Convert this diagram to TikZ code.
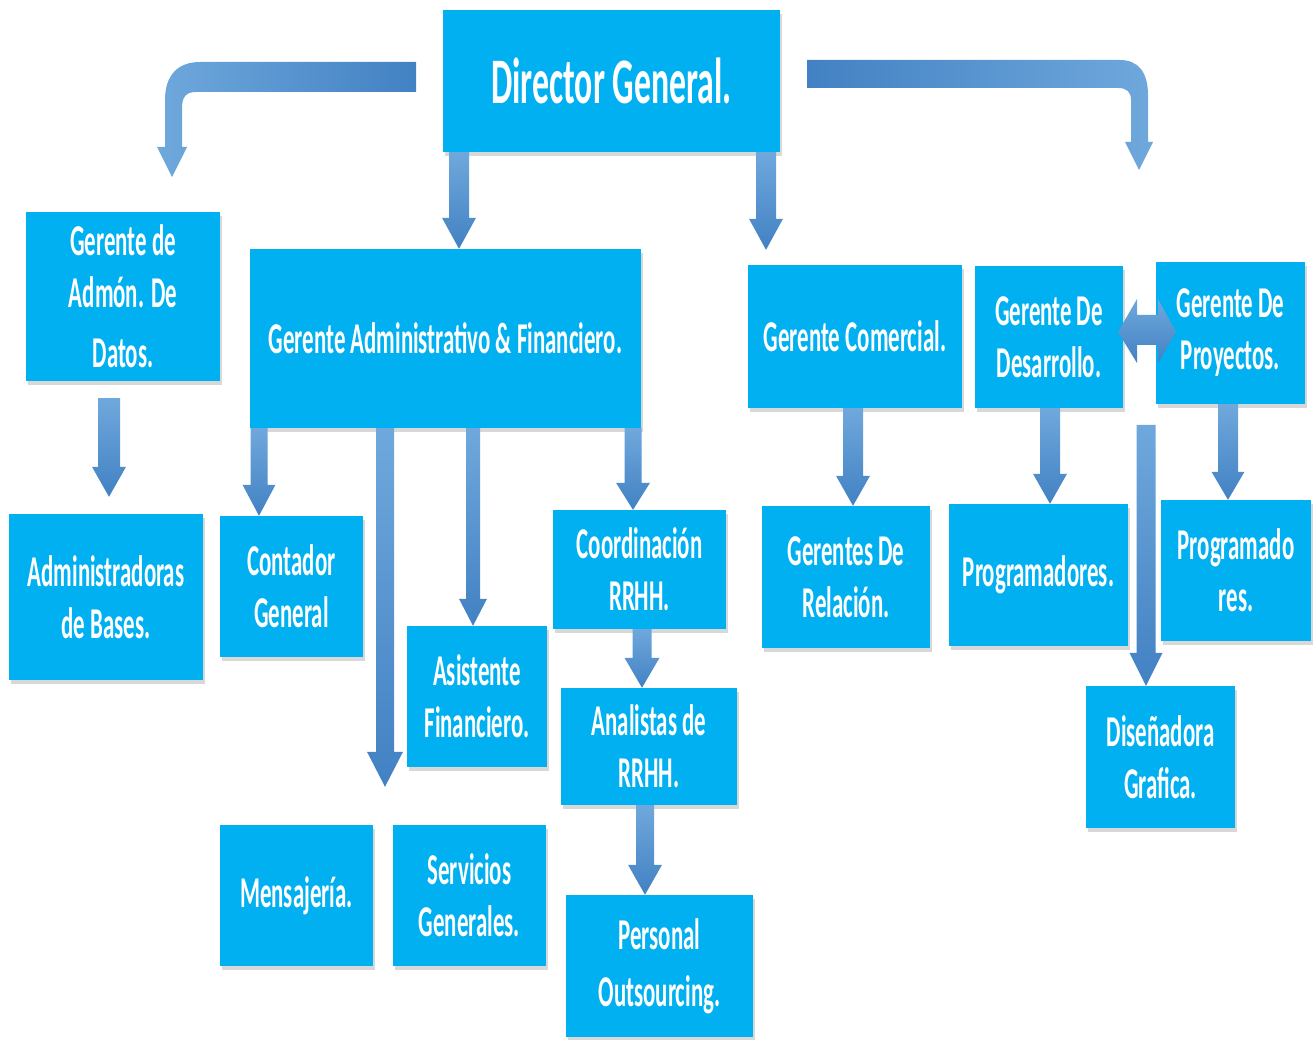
\documentclass[tikz,border=0pt]{standalone}
\usepackage{fontspec}
\setmainfont{Carlito}[FakeStretch=0.52]
\usetikzlibrary{shadows,calc}
\definecolor{boxc}{HTML}{00B0F0}
\definecolor{arrL}{HTML}{6FA8DC}
\definecolor{arrD}{HTML}{4281C3}
\tikzset{
  box/.style={fill=boxc, text=white, align=center, inner sep=0pt,
    drop shadow={opacity=0.3, shadow xshift=2pt, shadow yshift=-4pt},
    font=\fontsize{44}{52}\selectfont\bfseries},
  arrowfill/.style={top color=arrL, bottom color=arrD},
}
% #1 start, #2 tip, #3 shaft half width, #4 head half width, #5 head length
\newcommand\dnarrow[5]{%
  \shade[arrowfill] let \p1=#1, \p2=#2 in
  (\x1-#3pt,\y1) -- (\x1+#3pt,\y1) -- (\x1+#3pt,\y2+#5pt) -- (\x1+#4pt,\y2+#5pt)
  -- (\x1,\y2) -- (\x1-#4pt,\y2+#5pt) -- (\x1-#3pt,\y2+#5pt) -- cycle;}
\begin{document}
\begin{tikzpicture}[x=1pt,y=-1pt]
\fill[white] (0,0) rectangle (1315,1040);
\useasboundingbox (0,0) rectangle (1315,1040);

% boxes
\node[box, minimum width=337, minimum height=142, font=\fontsize{65}{72}\selectfont\bfseries] (dg) at (611.5,81) {Director General.};
\node[box, minimum width=194, minimum height=169] (gad) at (123,296.5) {Gerente de\\Admón. De\\[8pt]Datos.};
\node[box, minimum width=391, minimum height=179] (gaf) at (445.5,338.5) {Gerente Administrativo \& Financiero.};
\node[box, minimum width=214, minimum height=143] (gcom) at (855,336.5) {Gerente Comercial.};
\node[box, minimum width=148, minimum height=142] (gdes) at (1049,337) {Gerente De\\Desarrollo.};
\node[box, minimum width=149, minimum height=142] (gpro) at (1230.5,333) {Gerente De\\Proyectos.};
\node[box, minimum width=194, minimum height=166] (ab) at (106,597) {Administradoras\\de Bases.};
\node[box, minimum width=143, minimum height=141] (cont) at (291.5,586.5) {Contador\\General};
\node[box, minimum width=173, minimum height=119] (coord) at (639.5,569.5) {Coordinación\\RRHH.};
\node[box, minimum width=140, minimum height=141] (asis) at (477,696.5) {Asistente\\Financiero.};
\node[box, minimum width=176, minimum height=117] (anal) at (649,746.5) {Analistas de\\RRHH.};
\node[box, minimum width=187, minimum height=142, font=\fontsize{44}{57}\selectfont\bfseries] (pers) at (659.5,966) {Personal\\Outsourcing.};
\node[box, minimum width=153, minimum height=141] (mens) at (296.5,895.5) {Mensajería.};
\node[box, minimum width=153, minimum height=141] (serv) at (469.5,895.5) {Servicios\\Generales.};
\node[box, minimum width=168, minimum height=142] (grel) at (846,577) {Gerentes De\\Relación.};
\node[box, minimum width=179, minimum height=142] (prog) at (1038.5,575) {Programadores.};
\node[box, minimum width=150, minimum height=141] (prog2) at (1236,570.5) {Programado\\res.};
\node[box, minimum width=149, minimum height=142] (dis) at (1160.5,757) {Diseñadora\\Grafica.};

% x positions of the straight arrows
\coordinate (c1) at (459,0);
\coordinate (c2) at (766,0);
\coordinate (c3) at (109,0);
\coordinate (c4) at (259,0);
\coordinate (c5) at (385,0);
\coordinate (c6) at (473,0);
\coordinate (c7) at (633,0);
\coordinate (c8) at (642,0);
\coordinate (c9) at (645,0);
\coordinate (c10) at (853,0);
\coordinate (c11) at (1050,0);
\coordinate (c12) at (1228,0);
\coordinate (dstart) at (1146,425);

\dnarrow{(dg.south -| c1)}{(gaf.north -| c1)}{10}{17}{31}
\dnarrow{(dg.south -| c2)}{($(gcom.north -| c2)+(0,-15)$)}{10}{17}{31}
\dnarrow{($(gad.south -| c3)+(0,17)$)}{($(ab.north -| c3)+(0,-17)$)}{11}{17}{30}
\dnarrow{(gaf.south -| c4)}{(cont.north -| c4)}{8.5}{16.5}{31}
\dnarrow{(gaf.south -| c5)}{($(mens.north -| c5)+(0,-38)$)}{9}{18}{35}
\dnarrow{(gaf.south -| c6)}{(asis.north -| c6)}{7}{14}{27}
\dnarrow{(gaf.south -| c7)}{(coord.north -| c7)}{8.5}{17}{27}
\dnarrow{(coord.south -| c8)}{(anal.north -| c8)}{9.5}{17.5}{30}
\dnarrow{(anal.south -| c9)}{(pers.north -| c9)}{9}{17}{30}
\dnarrow{(gcom.south -| c10)}{(grel.north -| c10)}{10}{17}{30}
\dnarrow{(gdes.south -| c11)}{(prog.north -| c11)}{10}{17}{30}
\dnarrow{(gpro.south -| c12)}{(prog2.north -| c12)}{10}{16.5}{28}
\dnarrow{(dstart)}{(dis.north -| dstart)}{9.5}{16.5}{33}

% bent arrows from the director
\shade[left color=arrL, right color=arrD]
  (416,62) -- (200,62) .. controls (178,62) and (165,75) .. (165,100)
  -- (165,147) -- (157,147) -- (172,177) -- (187,147) -- (182,147)
  -- (182,108) .. controls (182,97) and (186,92) .. (196,92) -- (416,92) -- cycle;
\shade[left color=arrD, right color=arrL]
  (807,60) -- (1120,60) .. controls (1138,60) and (1148,72) .. (1148,95)
  -- (1148,142) -- (1153,142) -- (1139,170) -- (1125,142) -- (1131,142)
  -- (1131,100) .. controls (1131,92) and (1127,88) .. (1118,88) -- (807,88) -- cycle;

% double arrow
\shade[top color=arrL, bottom color=arrD]
  (1118,332) -- (1137,299) -- (1137,315) -- (1158,315) -- (1158,299)
  -- (1176,332) -- (1158,363) -- (1158,345) -- (1137,345) -- (1137,363) -- cycle;
\end{tikzpicture}
\end{document}
